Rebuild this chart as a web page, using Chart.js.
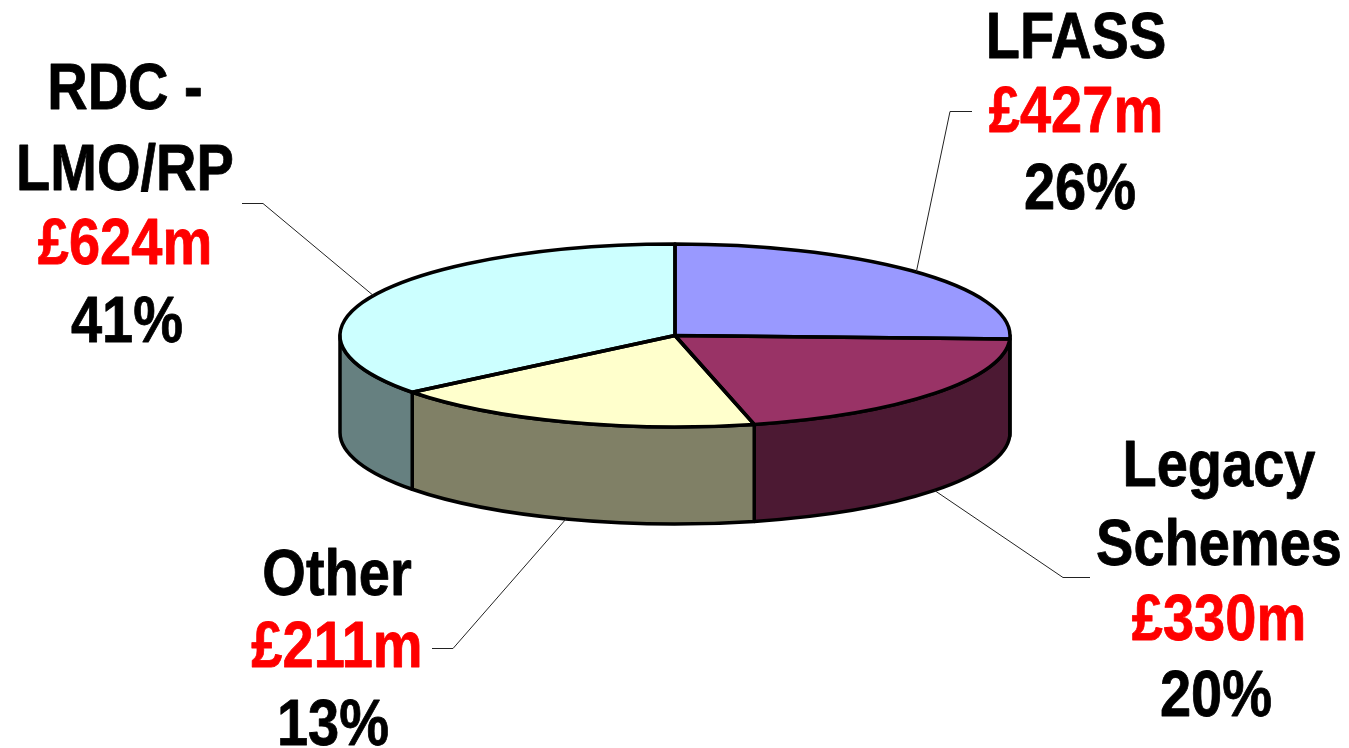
<!DOCTYPE html>
<html lang="en">

<head>
    <meta charset="UTF-8">
    <title>Payments pie</title>
    <script src="https://cdn.jsdelivr.net/npm/chart.js"></script>
    <style>
        body {
            margin: 0;
            background: #fff;
        }

        canvas {
            display: block;
        }
    </style>
</head>

<body>
    <canvas id="pie" width="1349" height="748"></canvas>

    <script>
        // data
        const names = [['LFASS'], ['Legacy', 'Schemes'], ['Other'], ['RDC -', 'LMO/RP']];
        const amounts = ['£427m', '£330m', '£211m', '£624m'];
        const percents = ['26%', '20%', '13%', '41%'];
        // slice sizes as actually drawn (they differ a bit from the printed percentages)
        const sliceShares = [25.6, 20.6, 18.15, 35.65];
        const topColors = ['#9999FF', '#993366', '#FFFFCC', '#CCFFFF'];
        const sideColors = ['#4C4C80', '#4C1933', '#808066', '#668080'];

        // look of the tilted pie
        const centerY = 335.5;
        const radiusX = 335;
        const radiusY = 91.5;
        const depth = 97;
        const squash = radiusY / radiusX;

        // label blocks: centre x, centre x of the percent line, baseline of every text line
        const labelSpots = [
            { x: 1076, percentX: 1080, lines: [58, 132, 209] },
            { x: 1219, percentX: 1216, lines: [486, 565, 640, 716] },
            { x: 337, percentX: 333, lines: [595, 667, 745] },
            { x: 125, percentX: 127, lines: [109, 190, 264, 342] }
        ];
        // leader lines: elbow + end of the little horizontal bit, per slice
        const leaders = [
            { elbow: [950, 111], end: [972, 111], onSide: false },
            { elbow: [1063, 577], end: [1090, 577], onSide: true },
            { elbow: [453, 648], end: [432, 648], onSide: true },
            { elbow: [263, 203], end: [242, 203], onSide: false }
        ];

        function drawText(ctx, text, x, y, color) {
            ctx.save();
            ctx.translate(x, y);
            ctx.scale(0.875, 1); // the original type is a bit narrow
            ctx.font = 'bold 64px "Liberation Sans"';
            ctx.textAlign = 'center';
            ctx.textBaseline = 'alphabetic';
            ctx.fillStyle = color;
            ctx.strokeStyle = color;
            ctx.lineWidth = 0.8; // and a bit heavier
            ctx.lineJoin = 'round';
            ctx.fillText(text, 0, 0);
            ctx.strokeText(text, 0, 0);
            ctx.restore();
        }

        const tiltPlugin = {
            id: 'tilt',
            beforeDatasetsDraw(chart) {
                const ctx = chart.ctx;
                const arcs = chart.getDatasetMeta(0).data;
                ctx.save();
                ctx.lineWidth = 3.5;
                ctx.strokeStyle = '#000';
                ctx.lineJoin = 'round';
                arcs.forEach((arc, i) => {
                    // only the front half of the rim shows
                    const a = Math.max(arc.startAngle, 0);
                    const b = Math.min(arc.endAngle, Math.PI);
                    if (b <= a) return;
                    ctx.beginPath();
                    ctx.ellipse(arc.x, centerY, radiusX, radiusY, 0, a, b);
                    ctx.ellipse(arc.x, centerY + depth, radiusX, radiusY, 0, b, a, true);
                    ctx.closePath();
                    ctx.fillStyle = sideColors[i];
                    ctx.fill();
                    ctx.stroke();
                });
                ctx.restore();

                // squash the library's circle into the top of the disc
                ctx.save();
                ctx.translate(0, centerY);
                ctx.scale(1, squash);
                ctx.translate(0, -arcs[0].y);
            },
            afterDatasetsDraw(chart) {
                const ctx = chart.ctx;
                ctx.restore();
                const arcs = chart.getDatasetMeta(0).data;

                // outlines here, so the stroke is not squashed too
                ctx.save();
                ctx.lineWidth = 3.5;
                ctx.strokeStyle = '#000';
                ctx.lineJoin = 'round';
                arcs.forEach((arc) => {
                    ctx.beginPath();
                    ctx.moveTo(arc.x, centerY);
                    ctx.ellipse(arc.x, centerY, radiusX, radiusY, 0, arc.startAngle, arc.endAngle);
                    ctx.closePath();
                    ctx.stroke();
                });

                // leaders start at the middle of each slice's rim
                ctx.lineWidth = 1;
                ctx.strokeStyle = '#222';
                arcs.forEach((arc, i) => {
                    const mid = (arc.startAngle + arc.endAngle) / 2;
                    const l = leaders[i];
                    const startX = arc.x + radiusX * Math.cos(mid);
                    const startY = centerY + radiusY * Math.sin(mid) + (l.onSide ? depth : 0);
                    ctx.beginPath();
                    ctx.moveTo(startX, startY);
                    ctx.lineTo(l.elbow[0], l.elbow[1] + 0.5);
                    ctx.lineTo(l.end[0], l.end[1] + 0.5);
                    ctx.stroke();
                });
                ctx.restore();

                names.forEach((nameLines, i) => {
                    const spot = labelSpots[i];
                    nameLines.forEach((t, n) => drawText(ctx, t, spot.x, spot.lines[n], '#000'));
                    drawText(ctx, amounts[i], spot.x, spot.lines[nameLines.length], '#FF0000');
                    drawText(ctx, percents[i], spot.percentX, spot.lines[nameLines.length + 1], '#000');
                });
            }
        };

        new Chart(document.getElementById('pie'), {
            type: 'pie',
            data: {
                labels: names.map(n => n.join(' ')),
                datasets: [{
                    data: sliceShares,
                    backgroundColor: topColors,
                    borderWidth: 0
                }]
            },
            options: {
                responsive: false,
                animation: false,
                radius: radiusX,
                layout: { padding: { left: 1 } },
                plugins: { legend: { display: false }, tooltip: { enabled: false } }
            },
            plugins: [tiltPlugin]
        });
    </script>
</body>

</html>
